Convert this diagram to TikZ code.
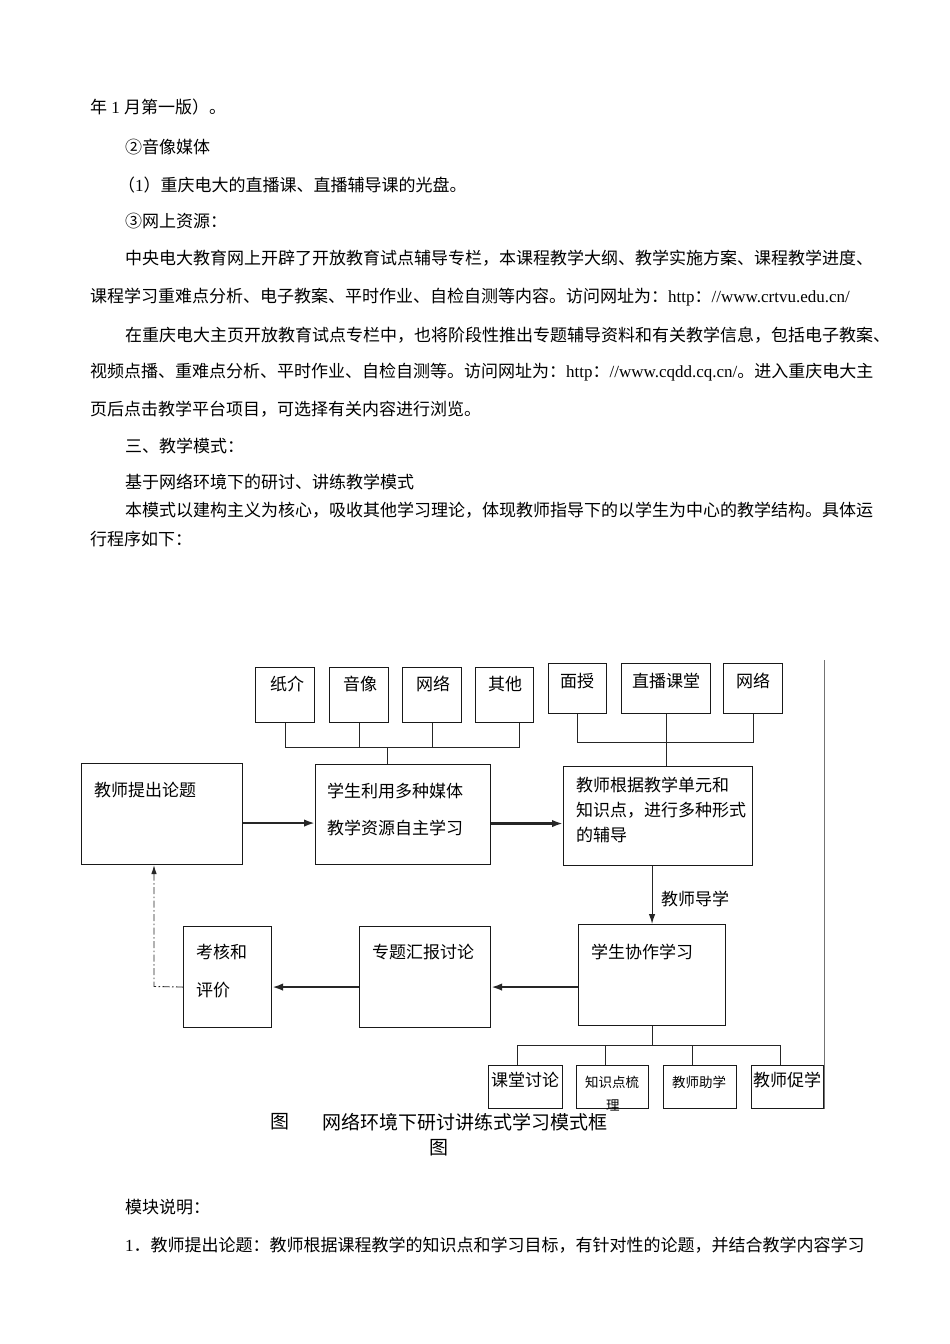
\documentclass[tikz,border=0pt]{standalone}
\usepackage{fontspec}
\setmainfont{Liberation Serif}
\newfontfamily\cjk{Noto Sans CJK SC}
\usetikzlibrary{arrows.meta}
\XeTeXlinebreaklocale "zh"
\XeTeXlinebreakskip=0pt plus 4pt
\newcommand\lat[1]{{\rmfamily #1}}
\newcommand\jline[2]{\makebox[#1][s]{#2}}
\tikzset{
  txt/.style={anchor=west, inner sep=0pt, font=\cjk\fontsize{17pt}{17pt}\selectfont},
  stxt/.style={anchor=west, inner sep=0pt, font=\cjk\fontsize{13.5pt}{13.5pt}\selectfont},
  captxt/.style={anchor=west, inner sep=0pt, font=\cjk\fontsize{19pt}{19pt}\selectfont},
  box/.style={draw=black!90, line width=1.1pt, inner sep=0pt, anchor=north west},
  conn/.style={draw=black!85, line width=0.9pt},
  harr/.style={draw=black!85, line width=2.2pt, -{Latex[length=11pt,width=7.5pt]}},
  varr/.style={draw=black!85, line width=1.1pt, -{Latex[length=10pt,width=6.5pt]}},
  ddarr/.style={draw=black!85, line width=0.9pt, dash pattern=on 7pt off 2.5pt on 1.5pt off 2.5pt, -{Latex[length=9pt,width=5.5pt]}}
}
\begin{document}
\begin{tikzpicture}[x=1pt,y=-1pt]
\fill[white] (0,0) rectangle (950,1344);
\useasboundingbox (0,0) rectangle (950,1344);

% ---- body text above ----
\node[txt] (t1) at (90,107) {年\lat{ 1 }月第一版）。};
\node[txt] (t2) at (125,147) {②音像媒体};
\node[txt] (t3) at (118,185) {（\lat{1}）重庆电大的直播课、直播辅导课的光盘。};
\node[txt] (t4) at (125,221) {③网上资源：};
\node[txt] (t5) at (125,258) {\jline{752pt}{中央电大教育网上开辟了开放教育试点辅导专栏，本课程教学大纲、教学实施方案、课程教学进度、}};
\node[txt] (t6) at (90,297) {课程学习重难点分析、电子教案、平时作业、自检自测等内容。访问网址为：\lat{http}：\lat{//www.crtvu.edu.cn/}};
\node[txt] (t7) at (125,335) {\jline{752pt}{在重庆电大主页开放教育试点专栏中，也将阶段性推出专题辅导资料和有关教学信息，包括电子教案、}};
\node[txt] (t8) at (90,372) {\jline{787pt}{视频点播、重难点分析、平时作业、自检自测等。访问网址为：\lat{http}：\lat{//www.cqdd.cq.cn/}。进入重庆电大主}};
\node[txt] (t9) at (90,409) {页后点击教学平台项目，可选择有关内容进行浏览。};
\node[txt] (t10) at (125,446) {三、教学模式：};
\node[txt] (t11) at (125,482) {基于网络环境下的研讨、讲练教学模式};
\node[txt] (t12) at (125,510) {\jline{752pt}{本模式以建构主义为核心，吸收其他学习理论，体现教师指导下的以学生为中心的教学结构。具体运}};
\node[txt] (t13) at (90,539) {行程序如下：};

% ---- boxes ----
\node[box, minimum width=59pt, minimum height=55pt] (zhijie) at (255,667) {};
\node[box, minimum width=59pt, minimum height=55pt] (yinxiang) at (329,667) {};
\node[box, minimum width=59pt, minimum height=55pt] (wangluoA) at (402,667) {};
\node[box, minimum width=58pt, minimum height=55pt] (qita) at (475,667) {};
\node[box, minimum width=58pt, minimum height=50pt] (mianshou) at (548,663) {};
\node[box, minimum width=89pt, minimum height=50pt] (zhibo) at (621,663) {};
\node[box, minimum width=59pt, minimum height=50pt] (wangluoB) at (723,663) {};
\node[box, minimum width=161pt, minimum height=101pt] (tichu) at (81,763) {};
\node[box, minimum width=175pt, minimum height=100pt] (xuesheng) at (315,764) {};
\node[box, minimum width=189pt, minimum height=99pt] (genju) at (563,766) {};
\node[box, minimum width=147pt, minimum height=101pt] (xiezuo) at (578,924) {};
\node[box, minimum width=131pt, minimum height=101pt] (zhuanti) at (359,926) {};
\node[box, minimum width=88pt, minimum height=101pt] (kaohe) at (183,926) {};
\node[box, minimum width=74pt, minimum height=43pt] (ketang) at (488,1065) {};
\node[box, minimum width=72pt, minimum height=43pt] (zhishi) at (576,1065) {};
\node[box, minimum width=73pt, minimum height=43pt] (zhuxue) at (663,1065) {};
\node[box, minimum width=72pt, minimum height=43pt] (cuxue) at (751,1065) {};

% ---- box texts ----
\node[txt] (l1) at (270,684) {纸介};
\node[txt] (l2) at (343,684) {音像};
\node[txt] (l3) at (416,684) {网络};
\node[txt] (l4) at (488,684) {其他};
\node[txt] (l5) at (560,681) {面授};
\node[txt] (l6) at (632,681) {直播课堂};
\node[txt] (l7) at (736,681) {网络};
\node[txt] (l8) at (94,790) {教师提出论题};
\node[txt] (l9) at (327,791) {学生利用多种媒体};
\node[txt] (l10) at (327,828) {教学资源自主学习};
\node[txt] (l11) at (576,785) {教师根据教学单元和};
\node[txt] (l12) at (576,810) {知识点，进行多种形式};
\node[txt] (l13) at (576,835) {的辅导};
\node[txt] (l14) at (591,952) {学生协作学习};
\node[txt] (l15) at (372,952) {专题汇报讨论};
\node[txt] (l16) at (196,952) {考核和};
\node[txt] (l17) at (196,990) {评价};
\node[txt] (l18) at (491,1080) {课堂讨论};
\node[stxt] (l19) at (585,1082) {知识点梳};
\node[stxt] (l20) at (606,1105) {理};
\node[stxt] (l21) at (672,1082) {教师助学};
\node[txt] (l22) at (753,1080) {教师促学};
\node[txt] (daoxue) at (661,899) {教师导学};

% ---- connectors: top left group ----
\coordinate (lbus) at (387,747);
\coordinate (qs) at ([xshift=15pt]qita.south);
\draw[conn] (zhijie.south) -- (zhijie.south |- lbus) -- (qs |- lbus) -- (qs);
\draw[conn] (yinxiang.south) -- (yinxiang.south |- lbus);
\draw[conn] (wangluoA.south) -- (wangluoA.south |- lbus);
\draw[conn] (lbus) -- (lbus |- xuesheng.north);

% ---- connectors: top right group ----
\coordinate (rbus) at (665,742);
\draw[conn] (mianshou.south) -- (mianshou.south |- rbus) -- (wangluoB.south |- rbus) -- (wangluoB.south);
\draw[conn] (zhibo.south) -- (zhibo.south |- genju.north);

% ---- right gray line ----
\coordinate (rtop) at (824,660);
\draw[draw=black!55, line width=0.8pt] (rtop) -- (rtop |- cuxue.south);

% ---- main arrows ----
\coordinate (a1) at ([yshift=-9pt]tichu.east);
\draw[harr] (a1) -- (a1 -| xuesheng.west);
\coordinate (a2) at ([yshift=-9pt]xuesheng.east);
\draw[harr] (a2) -- (a2 -| genju.west);
\draw[varr] (xiezuo.north |- genju.south) -- (xiezuo.north);
\coordinate (a3) at ([yshift=-12pt]xiezuo.west);
\draw[harr] (a3) -- (a3 -| zhuanti.east);
\coordinate (a4) at ([yshift=-10pt]zhuanti.west);
\draw[harr] (a4) -- (a4 -| kaohe.east);
\coordinate (a5) at ([yshift=-10pt]kaohe.west);
\coordinate (dcorner) at (154,986.5);
\draw[ddarr] (a5) -- (dcorner) -- (dcorner |- tichu.south);

% ---- bottom tree ----
\coordinate (bbus) at (651,1045);
\coordinate (k1) at ([xshift=-8pt]ketang.north);
\coordinate (k2) at ([xshift=-7pt]zhishi.north);
\coordinate (k3) at ([xshift=-7.5pt]zhuxue.north);
\coordinate (k4) at ([xshift=-7pt]cuxue.north);
\draw[conn] (xiezuo.south) -- (xiezuo.south |- bbus);
\draw[conn] (k1) -- (k1 |- bbus) -- (k4 |- bbus) -- (k4);
\draw[conn] (k2) -- (k2 |- bbus);
\draw[conn] (k3) -- (k3 |- bbus);

% ---- caption ----
\node[captxt] (c1) at (270,1122) {图};
\node[captxt] (c2) at (322,1122) {网络环境下研讨讲练式学习模式框};
\node[captxt] (c3) at (429,1148) {图};

% ---- text below ----
\node[txt] (t14) at (125,1207) {模块说明：};
\node[txt] (t15) at (125,1245) {\jline{747pt}{\lat{1}．教师提出论题：教师根据课程教学的知识点和学习目标，有针对性的论题，并结合教学内容学习}};
\end{tikzpicture}
\end{document}
